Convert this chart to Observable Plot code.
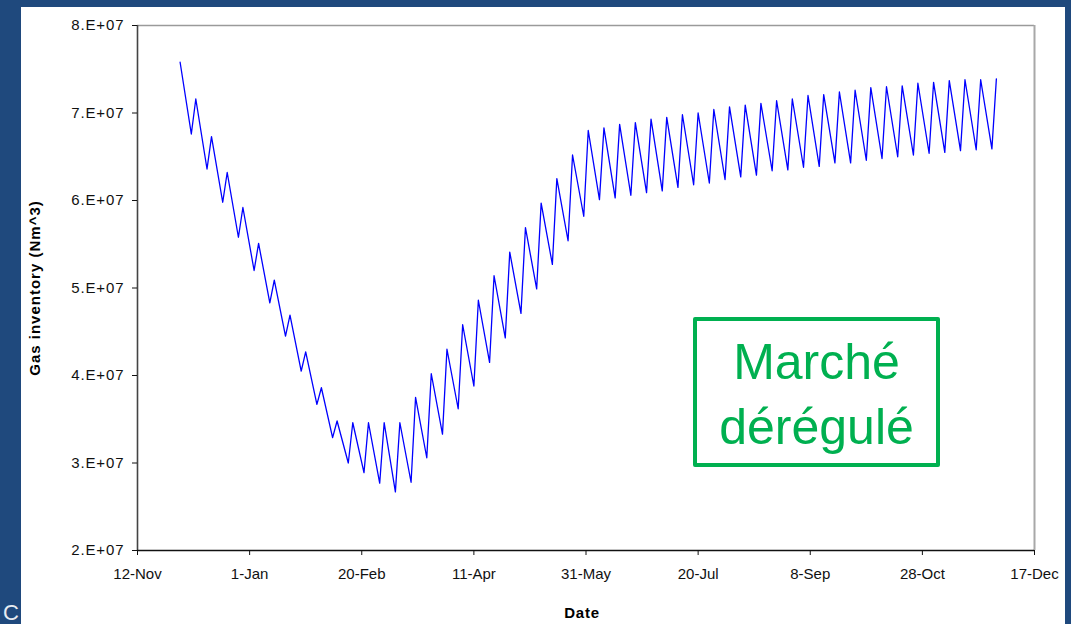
<!DOCTYPE html>
<html><head><meta charset="utf-8">
<script src="https://cdn.jsdelivr.net/npm/d3@7"></script>
<script src="https://cdn.jsdelivr.net/npm/@observablehq/plot@0.6"></script>
<style>
html,body{margin:0;padding:0;}
body{width:1071px;height:624px;background:#1F497D;position:relative;overflow:hidden;font-family:"Liberation Sans",Arial,sans-serif;}
#cchar{position:absolute;left:3px;top:604px;font-size:22px;line-height:18px;color:#e6ebf2;}
#panel{position:absolute;left:21px;top:7px;width:1044px;height:617px;background:#fff;}
#chart{position:absolute;left:0;top:0;}
#ylab{position:absolute;left:13px;top:281px;transform:translate(-50%,-50%) rotate(-90deg);font-weight:bold;font-size:15px;letter-spacing:1px;white-space:nowrap;color:#000;}
#xlab{position:absolute;left:561px;top:605px;transform:translate(-50%,-50%);font-weight:bold;font-size:15px;letter-spacing:0.8px;color:#000;}
#box{position:absolute;left:672px;top:310px;width:247px;height:150px;box-sizing:border-box;border:4px solid #00B050;border-radius:2px;padding-top:9px;text-align:center;color:#00B050;font-size:50px;line-height:65px;}
#chart [aria-label="y-axis tick label"] text{letter-spacing:0.9px;}
#chart [aria-label="x-axis tick label"]{font-family:"Liberation Sans Narrow","Liberation Sans",Arial,sans-serif;}
</style></head>
<body>
<div id="cchar">C</div>
<div id="panel">
  <div id="chart"></div>
  <div id="ylab">Gas inventory (Nm^3)</div>
  <div id="xlab">Date</div>
  <div id="box">Marché<br>dérégulé</div>
</div>
<script>
// X axis tick dates and labels
const tickDates = ["2005-11-12","2006-01-01","2006-02-20","2006-04-11","2006-05-31","2006-07-20","2006-09-08","2006-10-28","2006-12-17"];
const tickLabels = ["12-Nov","1-Jan","20-Feb","11-Apr","31-May","20-Jul","8-Sep","28-Oct","17-Dec"];
// Y axis ticks
const yTicks = [2e7,3e7,4e7,5e7,6e7,7e7,8e7];
const yTickLabels = ["2.E+07","3.E+07","4.E+07","5.E+07","6.E+07","7.E+07","8.E+07"];
// Series start
const startDate = "2005-12-01";
const startValue = 75.8; // million Nm^3
// Weekly troughs (first one on 2005-12-06, then every 7 days), million Nm^3
const troughValues = [67.6,63.6,59.8,55.8,52.0,48.3,44.5,40.5,36.7,32.9,30.0,28.9,27.7,26.7,27.8,30.6,33.3,36.2,38.8,41.5,44.3,47.1,49.9,52.7,55.4,58.2,60.1,60.3,60.6,60.9,61.1,61.5,61.8,62.0,62.4,62.7,62.9,63.4,63.5,63.8,63.9,64.3,64.3,64.6,64.8,65.0,65.2,65.4,65.5,65.7,65.8,65.9];
// Weekly peaks (two days after each trough), million Nm^3
const peakValues = [71.6,67.3,63.2,59.2,55.1,50.9,46.9,42.7,38.6,34.8,34.6,34.6,34.6,34.6,37.5,40.2,43.0,45.8,48.6,51.4,54.1,56.9,59.7,62.5,65.2,68.0,68.3,68.7,68.9,69.3,69.5,69.8,70.0,70.4,70.7,70.9,71.1,71.4,71.6,72.0,72.1,72.4,72.6,72.9,73.0,73.1,73.4,73.5,73.7,73.8,73.8,73.9];
const firstTrough = "2005-12-06";
const firstPeak = "2005-12-08";

const DAY = 864e5;
const parse = s => new Date(s + "T00:00:00Z");
const series = [{date: parse(startDate), value: startValue * 1e6}];
troughValues.forEach((t, k) => {
  series.push({date: new Date(+parse(firstTrough) + k * 7 * DAY), value: t * 1e6});
  series.push({date: new Date(+parse(firstPeak) + k * 7 * DAY), value: peakValues[k] * 1e6});
});
const xTicks = tickDates.map(parse);
const xLabelMap = new Map(xTicks.map((d, i) => [+d, tickLabels[i]]));
const yLabelMap = new Map(yTicks.map((v, i) => [v, yTickLabels[i]]));
const xDomain = [xTicks[0], xTicks[xTicks.length - 1]];

const chart = Plot.plot({
  width: 1044, height: 617,
  marginLeft: 116, marginRight: 31, marginTop: 18, marginBottom: 74,
  style: {fontFamily: "'Liberation Sans', Arial, sans-serif", color: "#111", background: "transparent", overflow: "visible"},
  x: {type: "utc", domain: xDomain},
  y: {domain: [2e7, 8e7]},
  marks: [
    Plot.ruleY([8e7], {stroke: "#9a9a9a", strokeWidth: 1.5}),
    Plot.ruleX([xDomain[1]], {stroke: "#a8a8a8", strokeWidth: 2}),
    Plot.ruleX([xDomain[0]], {stroke: "#444", strokeWidth: 1.6}),
    Plot.ruleY([2e7], {stroke: "#111", strokeWidth: 1.5}),
    Plot.axisX({ticks: xTicks, tickFormat: d => xLabelMap.get(+d), tickSize: 5, tickPadding: 13, fontSize: 15, label: null, stroke: "#111"}),
    Plot.axisY({ticks: yTicks, tickFormat: v => yLabelMap.get(v), tickSize: 5, tickPadding: 8, fontSize: 15, label: null, stroke: "#111"}),
    Plot.line(series, {x: "date", y: "value", stroke: "#0000ff", strokeWidth: 1.3})
  ]
});
document.getElementById("chart").appendChild(chart);
</script>
</body></html>
